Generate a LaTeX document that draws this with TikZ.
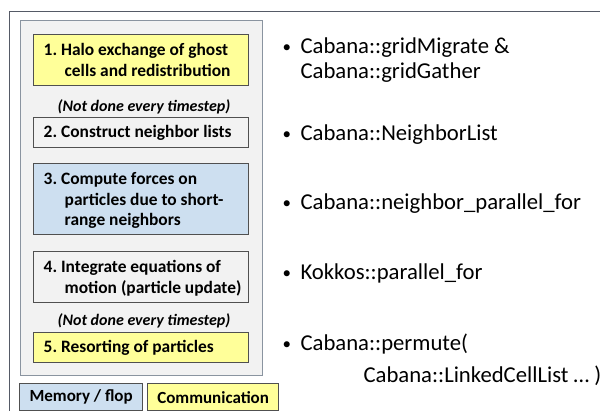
\documentclass[tikz,border=0pt]{standalone}
\usepackage{fontspec}
\setmainfont{Carlito}
\frenchspacing
\definecolor{frameC}{HTML}{555A66}
\definecolor{panelB}{HTML}{8A94A0}
\definecolor{panelF}{HTML}{F2F2F2}
\definecolor{boxB}{HTML}{505050}
\definecolor{yel}{HTML}{FFFF99}
\definecolor{blu}{HTML}{CDDFF0}
\newcommand{\ind}{\hspace*{21pt}}
\tikzset{
  stepbox/.style={draw=boxB, line width=1.3pt, rectangle, anchor=north west,
    minimum width=215pt, inner sep=0pt},
  steptext/.style={anchor=west, inner sep=0pt,
    font=\fontsize{17.4}{20.5}\selectfont\bfseries},
  note/.style={font=\fontsize{16}{18}\selectfont\bfseries\itshape},
  legbox/.style={draw=boxB, line width=1.3pt, rectangle, anchor=north west, inner sep=0pt,
    minimum height=27pt, font=\fontsize{17}{19}\selectfont\bfseries},
  api/.style={anchor=base west, font=\fontsize{22.7}{25}\selectfont},
  bul/.style={anchor=base west, font=\fontsize{17}{20}\selectfont},
}
\begin{document}
\begin{tikzpicture}[x=1pt,y=1pt]
\useasboundingbox (0,0) rectangle (600,-411);
\fill[white] (0,0) rectangle (600,-411);
% outer frame
\draw[frameC, line width=1pt] (9,-420) -- (9,-12) -- (610,-12);
% panel
\node[draw=panelB, fill=panelF, line width=1pt, anchor=north west, inner sep=0pt,
  minimum width=242pt, minimum height=355pt] (panel) at (20,-20) {};
% steps
\node[stepbox, fill=yel, minimum height=51pt] (s1) at (33,-34) {};
\node[steptext] (t1) at ([xshift=10.5pt,yshift=-2pt]s1.west)
  {\begin{tabular}{@{}l@{}}1. Halo exchange of ghost\\\ind cells and redistribution\end{tabular}};
\node[note] (n1) at (144,-107) {(Not done every timestep)};
\node[stepbox, fill=panelF, minimum height=30pt] (s2) at (33,-117) {};
\node[steptext] (t2) at ([xshift=10.5pt]s2.west) {2. Construct neighbor lists};
\node[stepbox, fill=blu, minimum height=71pt] (s3) at (33,-163) {};
\node[steptext] (t3) at ([xshift=10.5pt,yshift=-2pt]s3.west)
  {\begin{tabular}{@{}l@{}}3. Compute forces on\\\ind particles due to short-\\\ind range neighbors\end{tabular}};
\node[stepbox, fill=panelF, minimum height=51pt] (s4) at (33,-251) {};
\node[steptext] (t4) at ([xshift=10.5pt,yshift=-2pt]s4.west)
  {\begin{tabular}{@{}l@{}}4. Integrate equations of\\\ind motion (particle update)\end{tabular}};
\node[note] (n2) at (144,-321) {(Not done every timestep)};
\node[stepbox, fill=yel, minimum height=30pt] (s5) at (33,-332) {};
\node[steptext] (t5) at ([xshift=10.5pt]s5.west) {5. Resorting of particles};
% legend
\node[legbox, fill=blu, minimum width=123pt] (lm) at (19,-383) {Memory / flop};
\node[legbox, fill=yel, minimum width=131pt] (lc) at (147,-383) {Communication};
% API list
\node[bul] (b1) at (279,-53) {•};
\node[api] (a1) at (297,-54) {Cabana::gridMigrate \&};
\node[api] (a1b) at (297,-79) {Cabana::gridGather};
\node[bul] (b2) at (279,-140) {•};
\node[api] (a2) at (297,-141) {Cabana::NeighborList};
\node[bul] (b3) at (279,-209) {•};
\node[api] (a3) at (297,-210) {Cabana::neighbor\_parallel\_for};
\node[bul] (b4) at (279,-279) {•};
\node[api] (a4) at (297,-280) {Kokkos::parallel\_for};
\node[bul] (b5) at (279,-350) {•};
\node[api] (a5) at (297,-351) {Cabana::permute(};
\node[api] (a5b) at (360,-383) {Cabana::LinkedCellList … )};
\end{tikzpicture}
\end{document}
